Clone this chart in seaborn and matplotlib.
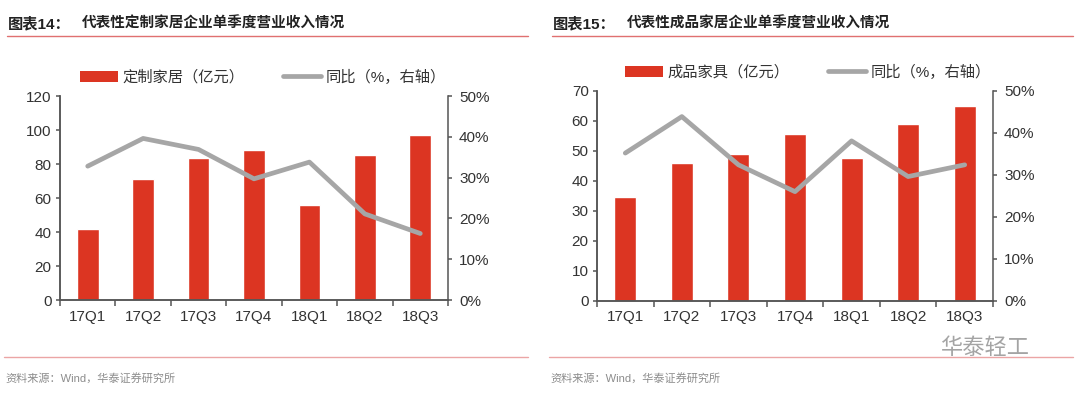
import matplotlib
matplotlib.use("Agg")
from matplotlib import pyplot as plt
from matplotlib.patches import Patch
from matplotlib.lines import Line2D
from matplotlib.ticker import FixedLocator, FuncFormatter
import seaborn as sns
import pandas as pd

quarters = ['17Q1', '17Q2', '17Q3', '17Q4', '18Q1', '18Q2', '18Q3']

# 定制家居 (亿元) / 同比 (%)
custom_revenue = [42, 71, 83.5, 88, 56, 85.5, 97]
custom_yoy = [32.8, 39.6, 36.9, 29.7, 33.8, 21.1, 16.3]

# 成品家具 (亿元) / 同比 (%)
finished_revenue = [34.5, 46, 49, 55.5, 47.5, 59, 65]
finished_yoy = [35.2, 43.9, 32.4, 26.0, 38.1, 29.6, 32.4]

BAR_RED = '#DC3522'
LINE_GREY = '#A6A6A6'
AXIS_GREY = '#555555'
W, H = 1080, 399

sns.set_style('ticks')
plt.rcParams['font.family'] = ['Liberation Sans', 'Noto Sans CJK SC']


def fx(px):
    return px / W


def fy(py):
    return 1 - py / H


def hline(fig, x0, x1, y, color, lw):
    fig.add_artist(Line2D([fx(x0), fx(x1)], [fy(y), fy(y)], transform=fig.transFigure,
                          color=color, linewidth=lw))


def draw_panel(fig, rect, revenue, yoy, ymax, ystep):
    """Draws one bar + line combo chart in the given pixel rectangle (x0, x1, ytop, ybottom)."""
    x0, x1, ytop, ybot = rect
    ax = fig.add_axes([fx(x0), fy(ybot), fx(x1 - x0), (ybot - ytop) / H])
    df = pd.DataFrame({'quarter': quarters, 'revenue': revenue, 'yoy': yoy})

    sns.barplot(data=df, x='quarter', y='revenue', color=BAR_RED, saturation=1,
                width=0.39, ax=ax)
    ax2 = ax.twinx()
    sns.lineplot(data=df, x='quarter', y='yoy', color=LINE_GREY, linewidth=3.4,
                 sort=False, ax=ax2)

    ax.set_xlim(-0.5, 6.5)
    ax.set_ylim(0, ymax)
    ax.set_yticks(range(0, ymax + 1, ystep))
    ax2.set_ylim(0, 50)
    ax2.set_yticks(range(0, 51, 10))
    ax2.yaxis.set_major_formatter(FuncFormatter(lambda v, p: f'{v:.0f}%'))
    ax.set_xlabel('')
    ax.set_ylabel('')
    ax2.set_ylabel('')

    ax.xaxis.set_minor_locator(FixedLocator([i - 0.5 for i in range(8)]))
    ax.tick_params(axis='x', which='major', length=0, pad=7, labelsize=11, labelcolor='#333333')
    ax.tick_params(axis='x', which='minor', length=4, width=1.1, color=AXIS_GREY)
    ax.tick_params(axis='y', length=3, width=1.1, color=AXIS_GREY, pad=3,
                   labelsize=11, labelcolor='#333333')
    ax2.tick_params(axis='y', length=3, width=1.1, color=AXIS_GREY, pad=5,
                    labelsize=11, labelcolor='#333333')

    for a in (ax, ax2):
        a.spines['top'].set_visible(False)
        for s in ('left', 'right', 'bottom'):
            a.spines[s].set_color(AXIS_GREY)
            a.spines[s].set_linewidth(1.1)
    ax.spines['right'].set_visible(False)
    if ax2.get_legend() is not None:
        ax2.get_legend().remove()
    return ax, ax2


fig = plt.figure(figsize=(W / 100, H / 100), dpi=100)

panels = [
    dict(left=0, rect=(60, 448, 96, 300), revenue=custom_revenue, yoy=custom_yoy,
         ymax=120, ystep=20, no='图表14：', title='代表性定制家居企业单季度营业收入情况',
         bar_label='定制家居（亿元）', legend_x=80, legend_y=77),
    dict(left=545, rect=(597, 993, 91, 300.7), revenue=finished_revenue, yoy=finished_yoy,
         ymax=70, ystep=10, no='图表15：', title='代表性成品家居企业单季度营业收入情况',
         bar_label='成品家具（亿元）', legend_x=625, legend_y=72),
]

for p in panels:
    draw_panel(fig, p['rect'], p['revenue'], p['yoy'], p['ymax'], p['ystep'])

    # title block
    fig.text(fx(p['left'] + 8), fy(24), p['no'], fontsize=11, weight='bold',
             color='#222222', va='center')
    fig.text(fx(p['left'] + 82), fy(24), p['title'], fontsize=10.5, weight='bold',
             color='#222222', va='center')
    hline(fig, p['left'] + 7, p['left'] + 528, 36, '#E07070', 1.0)

    # legend
    handles = [Patch(facecolor=BAR_RED, edgecolor='none'),
               Line2D([], [], color=LINE_GREY, linewidth=3.4)]
    labels = [p['bar_label'], '同比（%，右轴）']
    fig.legend(handles, labels, loc='center left',
               bbox_to_anchor=(fx(p['legend_x']), fy(p['legend_y'])),
               ncol=2, frameon=False, fontsize=11, handlelength=2.5, handleheight=0.7,
               handletextpad=0.3, columnspacing=2.5, borderaxespad=0, borderpad=0,
               labelcolor='#333333')

    # source
    hline(fig, p['left'] + 4, p['left'] + 528, 357, '#EBA5A5', 1.0)
    fig.text(fx(p['left'] + 5), fy(378), '资料来源：Wind，华泰证券研究所', fontsize=8,
             color='#8C8C8C', va='center')

# watermark
fig.text(fx(940), fy(349), '华泰轻工', fontsize=16, color='#9A9A9A', va='center', alpha=0.9)

fig.savefig('out.png', dpi=100)
